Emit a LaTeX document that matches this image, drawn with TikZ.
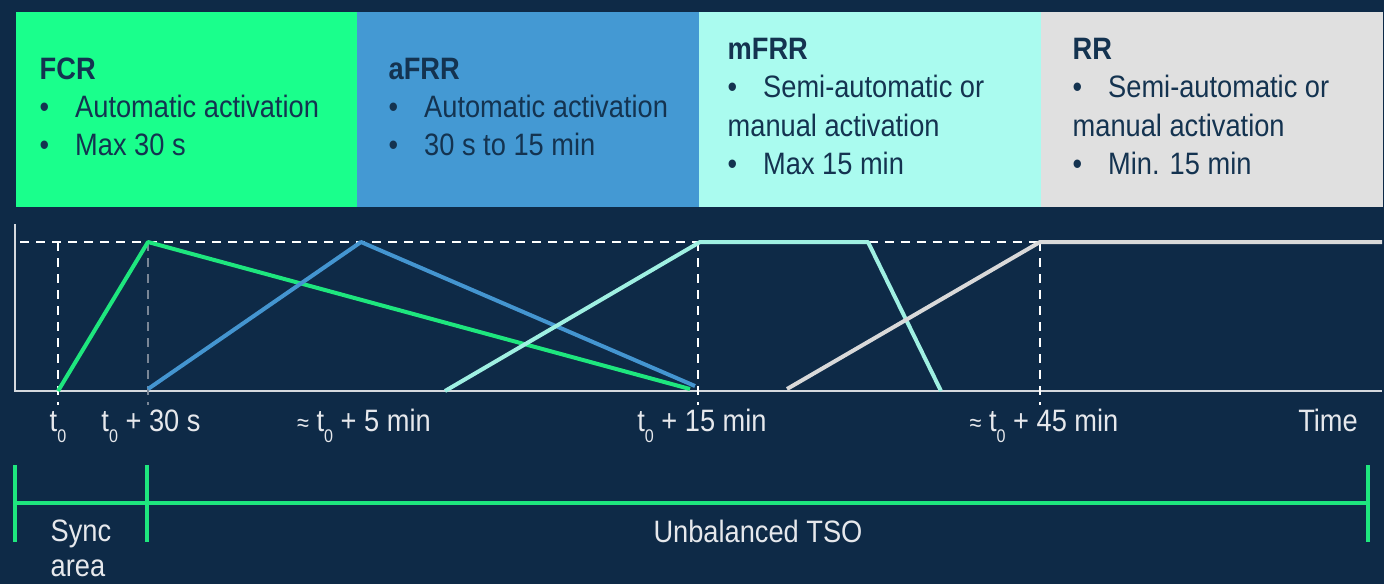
\documentclass[tikz,border=0pt]{standalone}
\usepackage{fontspec}
\setmainfont{Liberation Sans}[FakeStretch=0.88]

\definecolor{bgnavy}{HTML}{0E2A47}
\definecolor{txtnavy}{HTML}{143350}
\definecolor{fcrfill}{HTML}{1AFF8C}
\definecolor{afrrfill}{HTML}{4499D3}
\definecolor{mfrrfill}{HTML}{AAFBEF}
\definecolor{rrfill}{HTML}{E0E0E0}
\definecolor{fcrline}{HTML}{1EE67E}
\definecolor{afrrline}{HTML}{4495D0}
\definecolor{mfrrline}{HTML}{9FF0E2}
\definecolor{rrline}{HTML}{D9D9D9}
\definecolor{axisgray}{HTML}{D5D9DE}
\definecolor{dimgray}{HTML}{7A8696}
\definecolor{lbl}{HTML}{E6E8EC}

\newcommand{\itm}{\makebox[0.355cm][l]{•}}
\newcommand{\tnull}{t\raisebox{-3.4pt}{\fontsize{5.2}{6}\selectfont 0}}

\tikzset{
  blk/.style={anchor=north west, minimum width=3.42cm, minimum height=1.95cm,
    inner sep=0pt, draw=none},
  blktxt/.style={anchor=west, align=left, inner sep=0pt, text=txtnavy,
    font=\fontsize{8.8}{10.85}\selectfont},
  curve/.style={line width=0.04cm, line join=round},
  dsh/.style={draw=white, line width=0.02cm, dash pattern=on 0.09cm off 0.07cm},
  ticklbl/.style={anchor=base, inner sep=0pt, text=lbl,
    font=\fontsize{8.8}{10}\selectfont},
}

\begin{document}
\begin{tikzpicture}[x=0.01cm, y=-0.01cm]

% 1. Background
\fill[bgnavy] (0,0) rectangle (1384,584);
\useasboundingbox (0,0) rectangle (1384,584);

% 2. Reserve boxes
\node[blk, fill=fcrfill]  (fcr)  at (15,11)   {};
\node[blk, fill=afrrfill] (afrr) at (356,11)  {};
\node[blk, fill=mfrrfill] (mfrr) at (698,11)  {};
\node[blk, fill=rrfill]   (rr)   at (1040,11) {};

\node[blktxt] (fcrtxt) at (39,106.5)
  {\textbf{FCR}\\ \itm Automatic activation\\ \itm Max 30 s};
\node[blktxt] (afrrtxt) at (388,107)
  {\textbf{aFRR}\\ \itm Automatic activation\\ \itm 30 s to 15 min};
\node[blktxt] (mfrrtxt) at (727,106.5)
  {\textbf{mFRR}\\ \itm Semi-automatic or\\ manual activation\\ \itm Max 15 min};
\node[blktxt] (rrtxt) at (1072,106.5)
  {\textbf{RR}\\ \itm Semi-automatic or\\ manual activation\\ \itm Min. 15 min};

% 3. Axes
\draw[axisgray, line width=0.025cm] (15,224) -- (15,391) -- (1382,391);

% 4. Dashed guides
\draw[dsh] (20,242) -- (1040,242);
\draw[dsh] (58,242) -- (58,405);
\draw[dsh, draw=dimgray] (148,242) -- (148,405);
\draw[dsh] (698,242) -- (698,405);
\draw[dsh] (1040,242) -- (1040,405);

% 5. Activation curves
\coordinate (T0) at (58,391);
\coordinate (T30) at (148,242);
\draw[curve, fcrline] (T0) -- (T30) -- (690,389);
\draw[curve, afrrline] (148,389) -- (361,242) -- (695,386);
\draw[curve, mfrrline] (445,391) -- (700,242) -- (868,242) -- (941,391);
\draw[curve, rrline] (787,389) -- (1040,242) -- (1382,242);

% 6. Time labels
\node[ticklbl] (l0)  at (58,431)   {\tnull};
\node[ticklbl] (l30) at (151,431)  {\tnull\ + 30 s};
\node[ticklbl] (l5)  at (364,431)  {{\scriptsize ≈} \tnull\ + 5 min};
\node[ticklbl] (l15) at (702,431)  {\tnull\ + 15 min};
\node[ticklbl] (l45) at (1044,431) {{\scriptsize ≈} \tnull\ + 45 min};
\node[ticklbl] (ltime) at (1328,431) {Time};

% 7. Bracket below
\draw[fcrline, line width=0.04cm] (15,465) -- (15,542);
\draw[fcrline, line width=0.04cm] (147,465) -- (147,542);
\draw[fcrline, line width=0.04cm] (1368,465) -- (1368,542);
\draw[fcrline, line width=0.04cm] (15,503) -- (1368,503);

\node[ticklbl, anchor=west, align=left, font=\fontsize{8.8}{9.9}\selectfont] (sync) at (50,548) {Sync\\area};
\node[ticklbl] (tso) at (758,542) {Unbalanced TSO};

\end{tikzpicture}
\end{document}
